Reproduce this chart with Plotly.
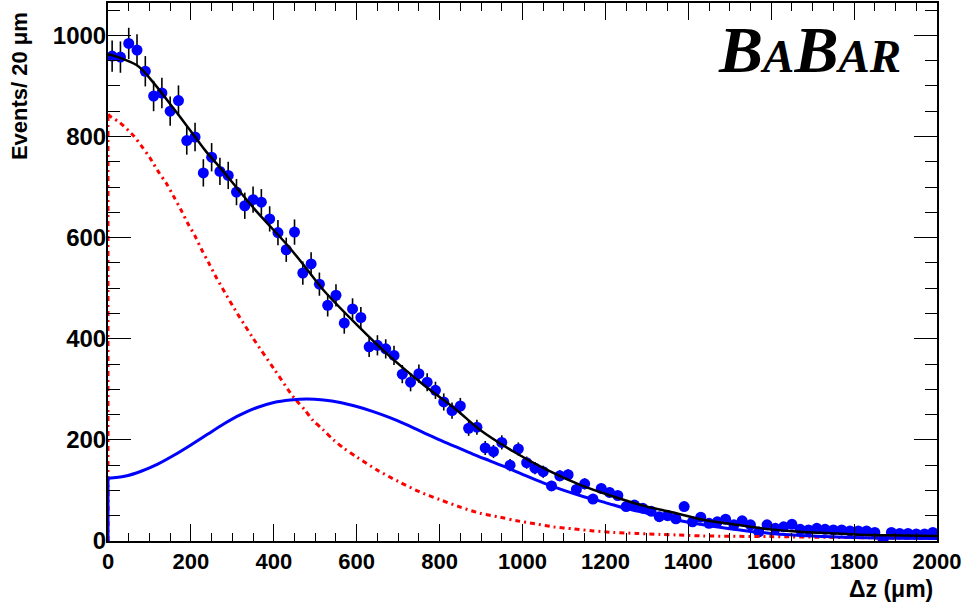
import plotly.graph_objects as go

# ---- data ----
bin_centers = list(range(10, 2000, 20))
events = [959, 957, 984, 971, 929, 880, 886, 850, 871, 792,
          799, 728, 759, 731, 723, 690, 663, 675, 670, 637,
          610, 576, 611, 530, 548, 508, 466, 486, 431, 459,
          442, 384, 387, 380, 367, 330, 314, 331, 314, 298,
          275, 258, 267, 223, 225, 184, 177, 195, 150, 182,
          155, 144, 137, 109, 129, 131, 102, 113, 83, 104,
          96, 90, 68, 71, 65, 59, 48, 50, 44, 68,
          38, 47, 35, 38, 43, 32, 40, 32, 18, 32,
          25, 28, 33, 23, 22, 25, 23, 22, 22, 20,
          20, 20, 17, 3, 17, 15, 15, 14, 14, 17]
errors = [31, 31, 31, 31, 30, 30, 30, 29, 30, 28,
          28, 27, 28, 27, 27, 26, 26, 26, 26, 25,
          25, 24, 25, 23, 23, 23, 22, 22, 21, 21,
          21, 20, 20, 19, 19, 18, 18, 18, 18, 17,
          17, 16, 16, 15, 15, 14, 13, 14, 12, 13,
          12, 12, 12, 10, 11, 11, 10, 11, 9, 10,
          10, 9, 8, 8, 8, 8, 7, 7, 7, 8,
          6, 7, 6, 6, 7, 6, 6, 6, 4, 6,
          5, 5, 6, 5, 5, 5, 5, 5, 5, 4,
          4, 4, 4, 2, 4, 4, 4, 4, 4, 4]

total_x = [0, 13, 73, 113, 154, 194, 234, 274, 314, 355, 395, 435, 471, 519,
           600, 680, 761, 841, 897, 978, 1058, 1139, 1219, 1300, 1356, 1436,
           1517, 1597, 1677, 1758, 1838, 1919, 2000]
total_y = [962, 960, 939, 903, 860, 817, 773, 735, 695, 655, 619, 583, 547, 497,
           428, 365, 309, 259, 220, 177, 141, 111, 88, 68, 58, 42,
           32, 23, 18, 15, 12, 11, 10]

blue_x = [0, 40, 80, 120, 160, 200, 240, 280, 320, 360, 400, 440, 480, 520, 560,
          600, 640, 680, 720, 760, 800, 840, 880, 920, 960, 1000, 1050, 1100,
          1150, 1200, 1250, 1300, 1350, 1400, 1450, 1500, 1550, 1600, 1700,
          1800, 1900, 2000]
blue_y = [124, 128, 138, 152, 170, 190, 211, 232, 250, 264, 274, 279, 281, 279, 274,
          266, 256, 244, 230, 215, 200, 186, 172, 159, 146, 132, 115, 100,
          87, 76, 64, 55, 45, 37, 30, 24, 19, 15, 10,
          7, 5.5, 5]

red_x = [0, 5, 29, 61, 81, 101, 121, 141, 158, 176, 192, 210, 226, 243, 260, 276,
         300, 350, 400, 439, 451, 475, 495, 519, 544, 568, 600, 650, 700, 750, 800,
         850, 897, 946, 986, 1030, 1074, 1123, 1171, 1219, 1275, 1332, 1372, 1436,
         1597, 1758, 1983, 2000]
red_y = [844, 840, 827, 802, 781, 758, 731, 707, 682, 655, 629, 603, 576, 550, 523, 500,
         466, 401, 341, 294, 281, 259, 238, 220, 200, 184, 166, 140, 118, 98, 82,
         67, 55, 47, 40, 34, 28, 24, 20, 17, 15, 13, 12, 10,
         8.7, 7, 5, 5]

fig = go.Figure()

# data points
fig.add_trace(go.Scatter(
    x=bin_centers, y=events, mode="markers",
    marker=dict(color="#0000ff", size=11, line=dict(width=0)),
    error_y=dict(type="data", array=errors, color="black", thickness=1.6, width=0),
    showlegend=False))

# red dash-dot component (vertical rise at 0 + curve)
red_dash = "5px,4px,2px,4px"
fig.add_trace(go.Scatter(x=[red_x[0], red_x[0]], y=[0, red_y[0]], mode="lines",
                         line=dict(color="#ff0000", width=3, dash=red_dash),
                         showlegend=False))
fig.add_trace(go.Scatter(x=red_x, y=red_y, mode="lines",
                         line=dict(color="#ff0000", width=3, dash=red_dash,
                                   shape="spline", smoothing=0.8),
                         showlegend=False))

# blue component
fig.add_trace(go.Scatter(x=[blue_x[0], blue_x[0]], y=[0, blue_y[0]], mode="lines",
                         line=dict(color="#0000ff", width=3), showlegend=False))
fig.add_trace(go.Scatter(x=blue_x, y=blue_y, mode="lines",
                         line=dict(color="#0000ff", width=3, shape="spline", smoothing=0.8),
                         showlegend=False))

# total fit
fig.add_trace(go.Scatter(x=total_x, y=total_y, mode="lines",
                         line=dict(color="black", width=2.5, shape="spline", smoothing=0.8),
                         showlegend=False))

font_fam = "Liberation Sans, Arial, sans-serif"
xtick_font = dict(family=font_fam, size=22, color="black", weight="bold")
ytick_font = dict(family=font_fam, size=24, color="black", weight="bold")

fig.update_xaxes(
    range=[0, 2000], tick0=0, dtick=200, ticks="inside", ticklen=17, tickwidth=1.2,
    tickcolor="black", showline=True, linecolor="black", linewidth=2, mirror="ticks",
    showgrid=False, zeroline=False, tickfont=xtick_font,
    minor=dict(ticks="inside", ticklen=8, dtick=50, tickcolor="black", tickwidth=1.2, showgrid=False))
fig.update_yaxes(
    range=[0, 1064], tick0=0, dtick=200, ticks="inside", ticklen=23, tickwidth=1.2,
    tickcolor="black", showline=True, linecolor="black", linewidth=2, mirror="ticks",
    showgrid=False, zeroline=False, tickfont=ytick_font, ticklabelstandoff=-5,
    minor=dict(ticks="inside", ticklen=12, dtick=50, tickcolor="black", tickwidth=1.2, showgrid=False))

fig.update_layout(
    width=965, height=603,
    margin=dict(l=108, r=28, t=3, b=62, autoexpand=False),
    paper_bgcolor="white", plot_bgcolor="white",
    showlegend=False,
    annotations=[
        dict(text="Events/ 20 μm", textangle=-90, xref="paper", yref="paper",
             x=-0.106, y=0.987, xanchor="center", yanchor="top", showarrow=False,
             font=dict(family=font_fam, size=22, color="black", weight="bold")),
        dict(text="Δz (μm)", xref="paper", yref="paper",
             x=0.9976, y=-0.089, xanchor="right", yanchor="middle", showarrow=False,
             font=dict(family=font_fam, size=23, color="black", weight="bold")),
        dict(text="<b><i>B<span style='font-size:47px'>A</span>B<span style='font-size:47px'>AR</span></i></b>",
             xref="paper", yref="paper", x=0.959, y=0.913, xanchor="right", yanchor="middle",
             showarrow=False,
             font=dict(family="Liberation Serif, Times New Roman, serif", size=66, color="black")),
    ],
)

fig.write_html("out.html", config={"displayModeBar": False},
               post_script="document.body.style.margin='0px';")
